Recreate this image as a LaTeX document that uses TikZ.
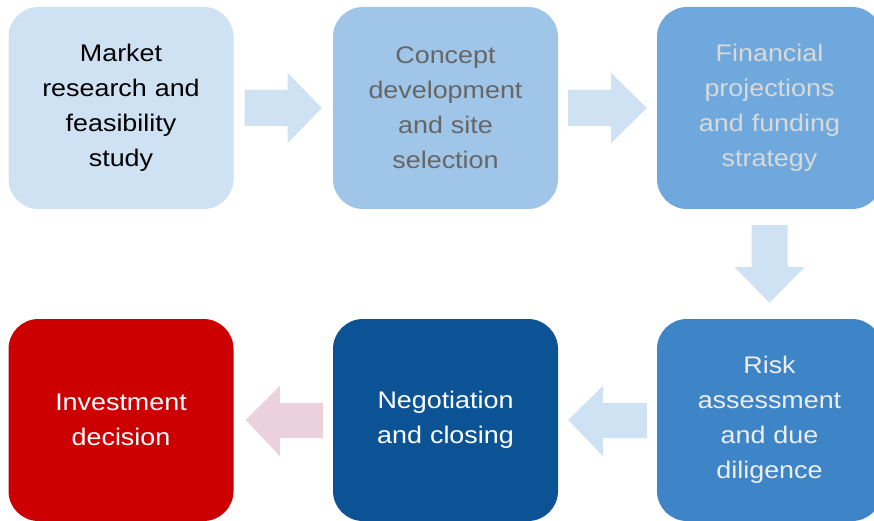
\documentclass[tikz,border=0pt]{standalone}
\usepackage{fontspec}
\setmainfont[FakeStretch=1.12]{Liberation Sans}
\usetikzlibrary{calc}
\definecolor{boxA}{HTML}{CFE2F3}
\definecolor{boxB}{HTML}{9FC5E8}
\definecolor{boxC}{HTML}{6FA8DC}
\definecolor{boxD}{HTML}{3D85C6}
\definecolor{boxE}{HTML}{0B5394}
\definecolor{boxF}{HTML}{CC0000}
\definecolor{txtB}{HTML}{666666}
\definecolor{txtC}{HTML}{D9D9D9}
\definecolor{txtD}{HTML}{EEEEEE}
\definecolor{arrowBlue}{HTML}{CFE2F3}
\definecolor{arrowPink}{HTML}{EAD1DC}
\tikzset{
  stage/.style={rounded corners=30pt, minimum width=225pt, minimum height=202pt,
    inner sep=0pt, align=center, text width=200pt,
    font=\fontsize{24}{35}\selectfont},
  blockarrow/.style={fill=arrowBlue, draw=none},
}
\begin{document}
\begin{tikzpicture}[x=1pt,y=-1pt]
\useasboundingbox (0,0) rectangle (874,521);
\clip (0,0) rectangle (874,521);
\fill[white] (0,0) rectangle (874,521);

% process stages
\node[stage, fill=boxA, text=black] (b1) at (121,108) {Market\\research and\\feasibility\\study};
\node[stage, fill=boxB, text=txtB] (b2) at (445.5,108) {Concept\\development\\and site\\selection};
\node[stage, fill=boxC, text=txtC] (b3) at (769.5,108) {Financial\\projections\\and funding\\strategy};
\node[stage, fill=boxD, text=txtD] (b4) at (769.5,420) {Risk\\assessment\\and due\\diligence};
\node[stage, fill=boxE, text=white] (b5) at (445.5,420) {Negotiation\\and closing};
\node[stage, fill=boxF, text=white] (b6) at (121,420) {Investment\\decision};

% block arrows between stages
\fill[blockarrow] ($(b1.east)+(11,-18)$) -- ++(43,0) -- ++(0,-17)
  -- ($(b2.west)+(-11,0)$) -- ($(b1.east)+(54,35)$) -- ++(0,-17)
  -- ($(b1.east)+(11,18)$) -- cycle;
\fill[blockarrow] ($(b2.east)+(10,-18)$) -- ++(43,0) -- ++(0,-17)
  -- ($(b3.west)+(-10,0)$) -- ($(b2.east)+(53,35)$) -- ++(0,-17)
  -- ($(b2.east)+(10,18)$) -- cycle;
\fill[blockarrow] ($(b3.south)+(-18,16)$) -- ++(0,42) -- ++(-17,0)
  -- ($(b4.north)+(0,-16)$) -- ($(b3.south)+(35,58)$) -- ++(-17,0)
  -- ($(b3.south)+(18,16)$) -- cycle;
\fill[blockarrow] ($(b4.west)+(-10,-17)$) -- ++(-44,0) -- ++(0,-17)
  -- ($(b5.east)+(10,0)$) -- ($(b4.west)+(-54,36)$) -- ++(0,-18)
  -- ($(b4.west)+(-10,18)$) -- cycle;
\fill[blockarrow, fill=arrowPink] ($(b5.west)+(-10,-17)$) -- ++(-43,0) -- ++(0,-17)
  -- ($(b6.east)+(12,0)$) -- ($(b5.west)+(-53,36)$) -- ++(0,-18)
  -- ($(b5.west)+(-10,18)$) -- cycle;
\end{tikzpicture}
\end{document}
